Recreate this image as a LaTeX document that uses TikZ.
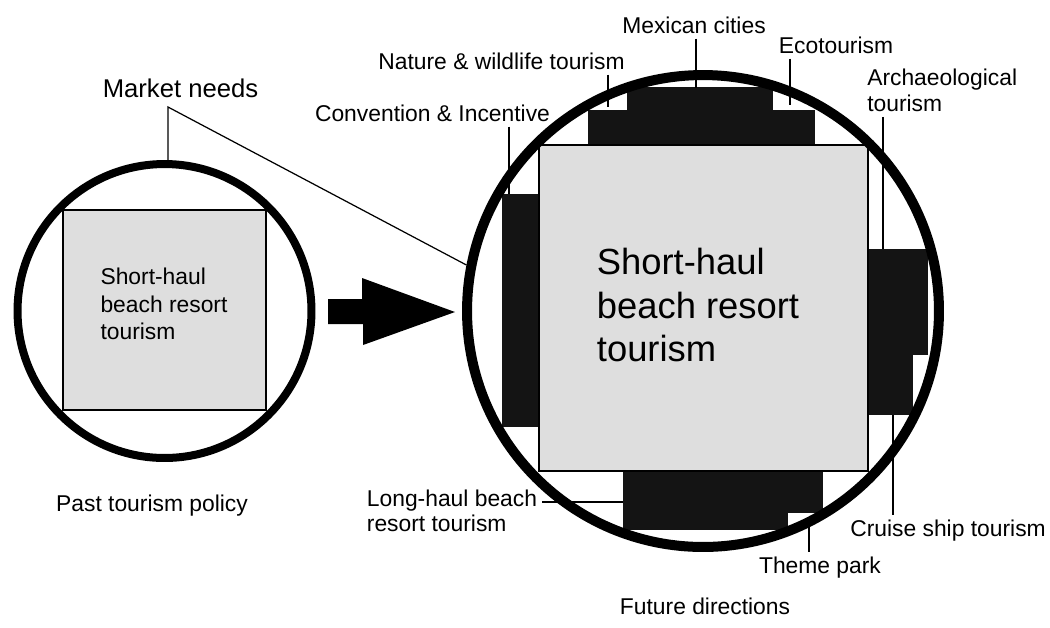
\documentclass[tikz,border=0pt]{standalone}
\usepackage{fontspec}
\setmainfont{Liberation Sans}
\begin{document}
\begin{tikzpicture}[x=0.02cm,y=-0.02cm,
        lbl/.style={font=\fontsize{13}{14.5}\selectfont,inner sep=0pt,outer sep=3pt},
        lead/.style={line width=0.7pt},
        darkblock/.style={fill=black!92},
        lightbox/.style={draw,line width=0.9pt,fill=black!13,inner sep=0pt},
        ring/.style={circle,draw,inner sep=0pt,fill=none},
        boxtext/.style={align=left,inner sep=0pt}]
                \useasboundingbox (0,0) rectangle (1050,627);
                \fill[darkblock] (588,110) rectangle (815,146);
                \fill[darkblock] (627,87) rectangle (773,110);
                \fill[darkblock] (502,194) rectangle (540,427);
                \fill[darkblock] (867,249) rectangle (928,355);
                \fill[darkblock] (867,355) rectangle (913,415);
                \fill[darkblock] (623,470) rectangle (823,513);
                \fill[darkblock] (623,513) rectangle (788,530);
                \node[lightbox,minimum width=4.06cm,minimum height=4cm] (pastsq) at (164.5,310) {};
                \node[lightbox,minimum width=6.58cm,minimum height=6.52cm] (futsq) at (703.5,308) {};
                \node[boxtext,font=\fontsize{13}{15.8}\selectfont] (pasttxt) at (164,304) {Short-haul\\beach resort\\tourism};
                \node[boxtext,font=\fontsize{20.7}{25}\selectfont] (futtxt) at (698,305) {Short-haul\\beach resort\\tourism};
                \node[ring,line width=0.16cm,minimum size=5.88cm] (pastc) at (164.5,311) {};
                \node[ring,line width=0.2cm,minimum size=9.44cm] (futc) at (703,311) {};
                \fill (328,299) -- (362,299) -- (362,278) -- (455,312) -- (363,345) -- (363,324) -- (328,324) -- cycle;
                \node[lbl,font=\fontsize{14.6}{16}\selectfont] (mkt) at (180.5,88) {Market needs};
                \coordinate (mktjoin) at (168,107);
                \draw[lead] (pastc.north -| mktjoin) -- (mktjoin) -- (futc.169.6);
                \node[lbl] (mexico) at (694,25) {Mexican cities};
                \coordinate (mexend) at (696,88);
                \draw[lead] (mexend |- mexico.south) -- (mexend);
                \node[lbl] (nature) at (501.5,61) {Nature \& wildlife tourism};
                \coordinate (natend) at (608,107);
                \draw[lead] (natend |- nature.south) -- (natend);
                \node[lbl] (eco) at (836,45) {Ecotourism};
                \coordinate (ecoend) at (790,105);
                \draw[lead] (ecoend |- eco.south) -- (ecoend);
                \node[lbl] (conv) at (432.5,113) {Convention \& Incentive};
                \coordinate (convend) at (509,194);
                \draw[lead] (convend |- conv.south) -- (convend);
                \node[lbl,align=left,anchor=north west] (arch) at (862,64) {Archaeological\\tourism};
                \coordinate (archend) at (883,249);
                \draw[lead] (archend |- arch.south) -- (archend);
                \node[lbl,anchor=west] (cruise) at (845,531) {Cruise ship tourism};
                \coordinate (cruiseend) at (893,415);
                \draw[lead] (cruiseend) -- (cruiseend |- cruise.north);
                \node[lbl] (theme) at (820,568) {Theme park};
                \coordinate (themeend) at (809,517);
                \draw[lead] (themeend) -- (themeend |- theme.north);
                \node[lbl,align=left] (longhaul) at (452,511) {Long-haul beach\\resort tourism};
                \coordinate (longend) at (623,502);
                \draw[lead] (longend -| longhaul.east) -- (longend);
                \node[lbl] (past) at (152,506) {Past tourism policy};
                \node[lbl] (future) at (705,606) {Future directions};
            \end{tikzpicture}
\end{document}
